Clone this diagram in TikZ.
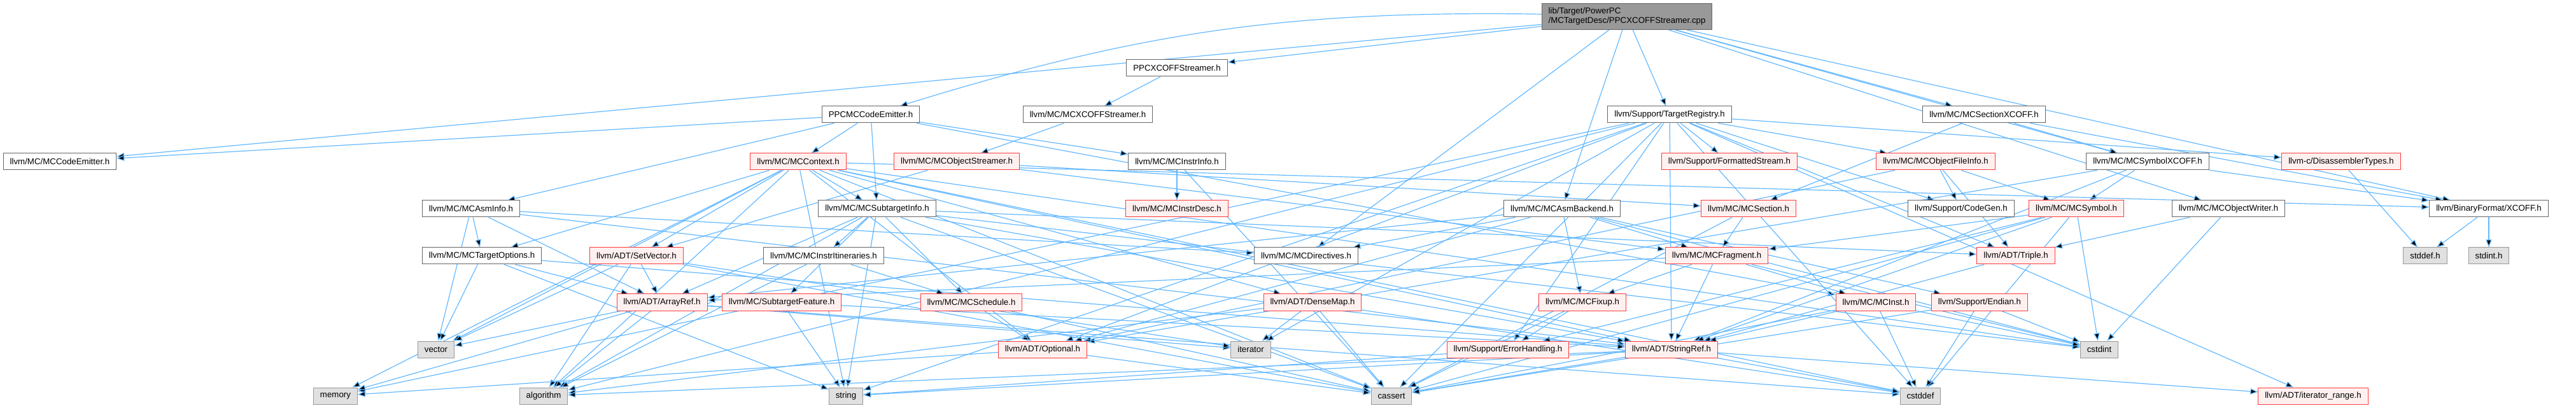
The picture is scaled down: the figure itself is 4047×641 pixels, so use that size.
\documentclass[tikz,border=0pt]{standalone}
\usepackage{fontspec}
\newfontfamily\dotfont{Liberation Sans}
\usetikzlibrary{arrows.meta}
\definecolor{edgeblue}{HTML}{63B8FF}
\definecolor{boxgray}{HTML}{666666}
\definecolor{truncred}{HTML}{FF3B3B}
\definecolor{truncfill}{HTML}{FFF0F0}
\definecolor{sysborder}{HTML}{999999}
\definecolor{sysfill}{HTML}{E0E0E0}
\definecolor{rootfill}{HTML}{999999}
\pgfdeclarelayer{edges}
\pgfsetlayers{edges,main}
\tikzset{
  hfile/.style={draw=boxgray, fill=white, line width=0.5pt,
    font=\dotfont\fontsize{6.65}{7.5}\selectfont,
    inner xsep=5.2pt, inner ysep=0pt, minimum height=13pt},
  hfilered/.style={hfile, draw=truncred, fill=truncfill},
  hsys/.style={hfile, draw=sysborder, fill=sysfill},
  hroot/.style={hfile, fill=rootfill, align=left, minimum height=20.5pt},
  incl/.style={-{Triangle[length=6pt,width=4.6pt]}, draw=edgeblue, line width=0.6pt}
}

\begin{document}
\begin{tikzpicture}[x=0.5pt, y=-0.5pt]
  \useasboundingbox (0,0) rectangle (4047,641);
  % rank 0-1
  \node[hroot] (root) at (2556,26) {lib/Target/PowerPC\\/MCTargetDesc/PPCXCOFFStreamer.cpp};
  \node[hfile] (ppcxs) at (1849,107) {PPCXCOFFStreamer.h};
  % rank 2
  \node[hfile] (ppcce) at (1368,180) {PPCMCCodeEmitter.h};
  \node[hfile] (mcxs) at (1709,180) {llvm/MC/MCXCOFFStreamer.h};
  \node[hfile] (treg) at (2623,180) {llvm/Support/TargetRegistry.h};
  \node[hfile] (secx) at (3117,180) {llvm/MC/MCSectionXCOFF.h};
  % rank 3
  \node[hfile] (codeemit) at (94,254) {llvm/MC/MCCodeEmitter.h};
  \node[hfilered] (ctx) at (1254,254) {llvm/MC/MCContext.h};
  \node[hfilered] (objstr) at (1503,254) {llvm/MC/MCObjectStreamer.h};
  \node[hfile] (instrinfo) at (1849,254) {llvm/MC/MCInstrInfo.h};
  \node[hfilered] (fstream) at (2717,254) {llvm/Support/FormattedStream.h};
  \node[hfilered] (ofi) at (3041,254) {llvm/MC/MCObjectFileInfo.h};
  \node[hfile] (symx) at (3374,254) {llvm/MC/MCSymbolXCOFF.h};
  \node[hfilered] (disasm) at (3678,254) {llvm-c/DisassemblerTypes.h};
  % rank 4
  \node[hfile] (asminfo) at (740,328) {llvm/MC/MCAsmInfo.h};
  \node[hfile] (sti) at (1378,328) {llvm/MC/MCSubtargetInfo.h};
  \node[hfilered] (instrdesc) at (1849,328) {llvm/MC/MCInstrDesc.h};
  \node[hfile] (asmbe) at (2454,328) {llvm/MC/MCAsmBackend.h};
  \node[hfilered] (section) at (2747,328) {llvm/MC/MCSection.h};
  \node[hfile] (codegen) at (3081,328) {llvm/Support/CodeGen.h};
  \node[hfilered] (symbol) at (3262,328) {llvm/MC/MCSymbol.h};
  \node[hfile] (objw) at (3501,328) {llvm/MC/MCObjectWriter.h};
  \node[hfile] (xcoff) at (3910,328) {llvm/BinaryFormat/XCOFF.h};
  % rank 5
  \node[hfile] (topts) at (757,402) {llvm/MC/MCTargetOptions.h};
  \node[hfilered] (setvec) at (1000,402) {llvm/ADT/SetVector.h};
  \node[hfile] (itin) at (1294,402) {llvm/MC/MCInstrItineraries.h};
  \node[hfile] (dirs) at (2052,402) {llvm/MC/MCDirectives.h};
  \node[hfilered] (frag) at (2697,402) {llvm/MC/MCFragment.h};
  \node[hfilered] (triple) at (3167,402) {llvm/ADT/Triple.h};
  \node[hsys] (stddefh) at (3810,402) {stddef.h};
  \node[hsys] (stdinth) at (3910,402) {stdint.h};
  % rank 6
  \node[hfilered] (arrayref) at (1040,475) {llvm/ADT/ArrayRef.h};
  \node[hfilered] (stfeat) at (1228,475) {llvm/MC/SubtargetFeature.h};
  \node[hfilered] (sched) at (1526,475) {llvm/MC/MCSchedule.h};
  \node[hfilered] (densemap) at (2062,475) {llvm/ADT/DenseMap.h};
  \node[hfilered] (fixup) at (2486,475) {llvm/MC/MCFixup.h};
  \node[hfilered] (inst) at (2947,475) {llvm/MC/MCInst.h};
  \node[hfilered] (endian) at (3110,475) {llvm/Support/Endian.h};
  % rank 7
  \node[hsys] (vec) at (685,549) {vector};
  \node[hfilered] (optional) at (1638,549) {llvm/ADT/Optional.h};
  \node[hsys] (iter) at (1965,549) {iterator};
  \node[hfilered] (errh) at (2369,549) {llvm/Support/ErrorHandling.h};
  \node[hfilered] (strref) at (2626,549) {llvm/ADT/StringRef.h};
  \node[hsys] (cstdint) at (3298,549) {cstdint};
  % rank 8
  \node[hsys] (mem) at (527,622) {memory};
  \node[hsys] (algo) at (854,622) {algorithm};
  \node[hsys] (str) at (1329,622) {string};
  \node[hsys] (cassert) at (2186,622) {cassert};
  \node[hsys] (cstddef) at (3017,622) {cstddef};
  \node[hfilered] (itrange) at (3634,622) {llvm/ADT/iterator\_range.h};

  \begin{pgfonlayer}{edges}
    \path[incl] (root) edge (ppcxs) edge[bend right=9] (ppcce) edge (xcoff) edge (asmbe)
      edge (codeemit) edge (dirs) edge (objw) edge (secx) edge (symx) edge (treg);
    \path[incl] (ppcxs) edge (mcxs);
    \path[incl] (mcxs) edge (objstr);
    \path[incl] (ppcce) edge (asminfo) edge (codeemit) edge (sti) edge (instrinfo) edge (ctx) edge (inst);
    \path[incl] (treg) edge (disasm) edge (optional) edge (strref) edge (triple) edge (itrange)
      edge (ofi) edge (codegen) edge (errh) edge (fstream) edge (algo) edge (cassert)
      edge (cstddef) edge (iter) edge (mem) edge (str);
    \path[incl] (secx) edge (xcoff) edge (section) edge (symx);
    \path[incl] (objw) edge (triple) edge (cstdint);
    \path[incl] (xcoff) edge (stddefh) edge (stdinth);
    \path[incl] (symx) edge (optional) edge (strref) edge (xcoff) edge (symbol);
    \path[incl] (asmbe) edge (arrayref) edge (optional) edge (dirs) edge (fixup) edge (frag)
      edge (endian) edge (cstdint);
    \path[incl] (objstr) edge (setvec) edge (section) edge (frag);
    \path[incl] (ctx) edge (densemap) edge (optional) edge (setvec) edge (strref) edge (xcoff)
      edge (sti) edge (topts) edge (algo) edge (cassert) edge (cstddef) edge (cstdint)
      edge (mem) edge (str) edge (vec);
    \path[incl] (instrinfo) edge (instrdesc) edge (cassert);
    \path[incl] (ofi) edge (optional) edge (triple) edge (symbol) edge (codegen);
    \path[incl] (disasm) edge (stddefh);
    \path[incl] (asminfo) edge (arrayref) edge (strref) edge (dirs) edge (topts) edge (vec);
    \path[incl] (topts) edge (arrayref) edge (strref) edge (str) edge (vec);
    \path[incl] (sti) edge (arrayref) edge (strref) edge (triple) edge (itin) edge (sched)
      edge (stfeat) edge (algo) edge (cassert) edge (cstdint) edge (str);
    \path[incl] (section) edge (frag) edge (cassert);
    \path[incl] (symbol) edge (strref) edge (frag) edge (errh) edge (cassert) edge (cstddef) edge (cstdint);
    \path[incl] (itin) edge (sched) edge (algo);
    \path[incl] (frag) edge (arrayref) edge (strref) edge (fixup) edge (inst) edge (cstdint);
    \path[incl] (triple) edge (strref);
    \path[incl] (arrayref) edge (algo) edge (cstddef) edge (iter) edge (mem) edge (vec);
    \path[incl] (setvec) edge (arrayref) edge (algo) edge (cassert) edge (iter) edge (vec);
    \path[incl] (stfeat) edge (strref) edge (str);
    \path[incl] (sched) edge (optional) edge (cassert);
    \path[incl] (densemap) edge (algo) edge (cassert) edge (cstddef) edge (iter);
    \path[incl] (fixup) edge (errh) edge (cassert);
    \path[incl] (inst) edge (strref) edge (cassert) edge (cstddef) edge (cstdint);
    \path[incl] (endian) edge (cassert) edge (cstddef) edge (cstdint);
    \path[incl] (optional) edge (cassert) edge (mem);
    \path[incl] (errh) edge (str);
    \path[incl] (strref) edge (itrange) edge (algo) edge (cassert) edge (cstddef) edge (str);
  \end{pgfonlayer}
\end{tikzpicture}
\end{document}
